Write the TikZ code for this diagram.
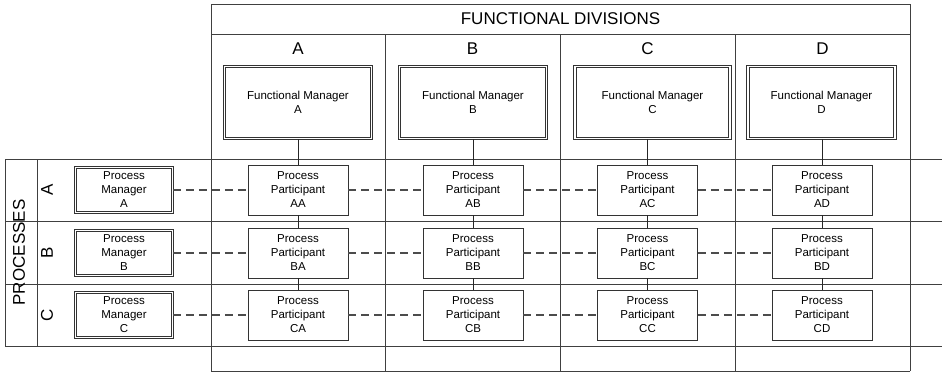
\documentclass[tikz,border=0pt]{standalone}
\usepackage{fontspec}
\setmainfont{Liberation Sans}
\begin{document}
\begin{tikzpicture}[x=1pt,y=-1pt,
  grid/.style={draw=black!75,line width=0.9pt},
  boxtext/.style={font=\fontsize{11.5}{14}\selectfont,align=center,inner sep=0pt},
  participant/.style={boxtext,draw=black!80,line width=0.9pt,minimum width=100pt,minimum height=50pt},
  manager/.style={boxtext,draw=black!80,line width=0.7pt,double,double distance=1.8pt},
  funcmgr/.style={manager,minimum width=147pt,minimum height=72pt},
  procmgr/.style={manager,minimum width=97pt,minimum height=45pt},
  link/.style={draw=black!85,line width=0.9pt},
  dashlink/.style={draw=black!70,line width=1.2pt,dash pattern=on 8pt off 5pt},
  bigtext/.style={font=\fontsize{17}{20}\selectfont,inner sep=0pt}
]
\useasboundingbox (0,0) rectangle (942,372);

% grid of functional divisions
\draw[grid] (211,4) rectangle (910,34);
\node[bigtext] (title) at (560.5,19) {FUNCTIONAL DIVISIONS};
\foreach \x in {211,385,560,735,910} \draw[grid] (\x,34) -- (\x,371);
\draw[grid] (211,371) -- (910,371);
% grid of processes
\foreach \y in {159,221,284,346} \draw[grid] (5,\y) -- (942,\y);
\draw[grid] (5,159) -- (5,346);
\draw[grid] (37,159) -- (37,346);
\node[bigtext,rotate=90] (proc) at (19,252.5) {PROCESSES};

% column and row letters
\node[bigtext] (colA) at (298,49) {A};
\node[bigtext] (colB) at (472.5,49) {B};
\node[bigtext] (colC) at (647.5,49) {C};
\node[bigtext] (colD) at (822.5,49) {D};
\node[bigtext,rotate=90] (rowA) at (47,190) {A};
\node[bigtext,rotate=90] (rowB) at (47,253) {B};
\node[bigtext,rotate=90] (rowC) at (47,315) {C};

% functional managers
\node[funcmgr] (FA) at (298,102.5) {Functional Manager\\A};
\node[funcmgr] (FB) at (473,102.5) {Functional Manager\\B};
\node[funcmgr,minimum width=155pt] (FC) at (652.5,102.5) {Functional Manager\\C};
\node[funcmgr] (FD) at (821.5,102.5) {Functional Manager\\D};

% process managers
\node[procmgr] (PA) at (124,190) {Process\\Manager\\A};
\node[procmgr] (PB) at (124,253) {Process\\Manager\\B};
\node[procmgr] (PC) at (124,315) {Process\\Manager\\C};

% process participants
\foreach \c/\x in {A/298,B/473,C/647.5,D/822} {
  \node[participant] (A\c) at (\x,190) {Process\\Participant\\A\c};
  \node[participant] (B\c) at (\x,253) {Process\\Participant\\B\c};
  \node[participant] (C\c) at (\x,315) {Process\\Participant\\C\c};
}

% reporting lines within each division
\foreach \c in {A,B,C,D} {
  \draw[link] (A\c.north) -- (A\c.north |- F\c.south);
  \draw[link] (A\c.south) -- (B\c.north);
  \draw[link] (B\c.south) -- (C\c.north);
}

% process coordination lines
\foreach \r in {A,B,C} {
  \draw[dashlink] (P\r.east) -- (\r A.west);
  \draw[dashlink] (\r A.east) -- (\r B.west);
  \draw[dashlink] (\r B.east) -- (\r C.west);
  \draw[dashlink] (\r C.east) -- (\r D.west);
}
\end{tikzpicture}
\end{document}
